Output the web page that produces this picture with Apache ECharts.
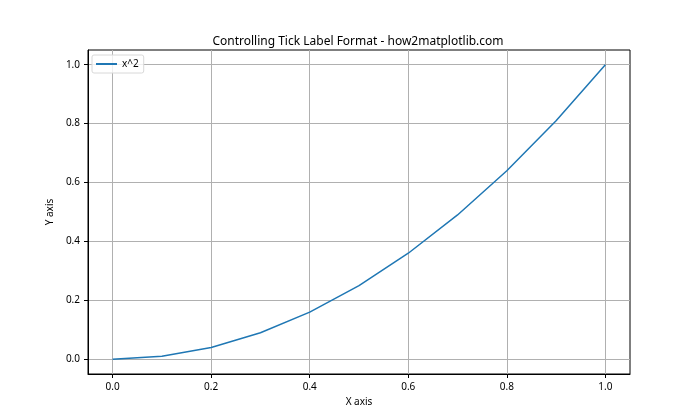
<!DOCTYPE html>
<html>
<head>
<meta charset="utf-8">
<script src="https://cdn.jsdelivr.net/npm/echarts@6/dist/echarts.min.js"></script>
<style>
  html, body { margin: 0; padding: 0; background: #fff; }
  #main { width: 700px; height: 420px; }
</style>
</head>
<body>
<div id="main"></div>
<script>
// values
const xValues = [0.0, 0.1, 0.2, 0.3, 0.4, 0.5, 0.6, 0.7, 0.8, 0.9, 1.0];
const yValues = [0.0, 0.01, 0.04, 0.09, 0.16, 0.25, 0.36, 0.49, 0.64, 0.81, 1.0];
const tickValues = [0.0, 0.2, 0.4, 0.6, 0.8, 1.0];

const font = "Noto Sans";
const chart = echarts.init(document.getElementById("main"));

const axisCommon = {
  type: "value",
  min: -0.05,
  max: 1.05,
  axisLine: { show: true, onZero: false, lineStyle: { color: "#000", width: 1 } },
  axisTick: { show: true, length: 4, customValues: tickValues, lineStyle: { color: "#000" } },
  axisLabel: {
    customValues: tickValues,
    color: "#000",
    fontFamily: font,
    fontSize: 10,
    formatter: (v) => v.toFixed(1),
  },
  splitLine: { show: true, lineStyle: { color: "#b0b0b0", width: 1 } },
  nameLocation: "middle",
  nameTextStyle: { color: "#000", fontFamily: font, fontSize: 10 },
};

chart.setOption({
  animation: false,
  title: {
    text: "Controlling Tick Label Format - how2matplotlib.com",
    left: 353,
    top: 31,
    textAlign: "center",
    textStyle: { color: "#000", fontFamily: font, fontSize: 12, fontWeight: "normal" },
  },
  legend: {
    left: 92,
    top: 55,
    orient: "vertical",
    padding: [4, 5, 4, 4],
    itemWidth: 21,
    itemHeight: 2,
    itemGap: 4,
    borderColor: "#d8d8d8",
    borderWidth: 1,
    borderRadius: 2,
    backgroundColor: "rgba(255,255,255,0.8)",
    icon: "rect",
    textStyle: { color: "#000", fontFamily: font, fontSize: 10 },
    data: ["x^2"],
  },
  grid: { left: 88, right: 70, top: 50, bottom: 46, show: true, borderColor: "#000", borderWidth: 1 },
  xAxis: Object.assign({}, axisCommon, { name: "X axis", nameGap: 22 }),
  yAxis: Object.assign({}, axisCommon, { name: "Y axis", nameGap: 31 }),
  series: [
    {
      name: "x^2",
      type: "line",
      data: xValues.map((x, i) => [x, yValues[i]]),
      showSymbol: false,
      lineStyle: { color: "#1f77b4", width: 1.5 },
      itemStyle: { color: "#1f77b4" },
    },
  ],
});
</script>
</body>
</html>
